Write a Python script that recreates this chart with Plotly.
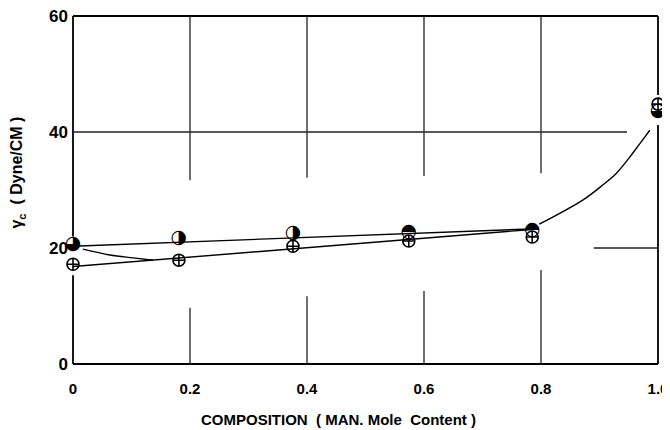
import plotly.graph_objects as go

# ---- data ----
composition = [0.0, 0.181, 0.376, 0.574, 0.785, 1.0]
gamma_half = [20.7, 21.7, 22.6, 22.8, 23.1, 43.6]      # half-filled circles
gamma_cross = [17.2, 17.9, 20.3, 21.2, 21.9, 44.8]     # crossed circles

fit_half_x = [0.0, 0.785]
fit_half_y = [20.3, 23.3]
fit_cross_x = [0.0, 0.785]
fit_cross_y = [16.8, 23.2]

dip_x = [0.017, 0.063, 0.103, 0.137]
dip_y = [19.8, 18.8, 18.3, 17.9]

rise_x = [0.797, 0.872, 0.906, 0.929, 0.952, 0.969, 0.986]
rise_y = [24.1, 28.3, 30.9, 32.9, 35.7, 38.0, 40.3]

x_ticks = [0, 0.2, 0.4, 0.6, 0.8, 1.0]
x_ticktext = ["0", "0.2", "0.4", "0.6", "0.8", "1.0"]
y_ticks = [0, 20, 40, 60]

X_MAX = 1.0
Y_MAX = 60

half_glyphs = ["◕", "◑", "◑", "◓", "◓", "◒"]

fig = go.Figure()
line_style = dict(color="black", width=1.4)

fig.add_trace(go.Scatter(x=fit_half_x, y=fit_half_y, mode="lines", line=line_style, hoverinfo="skip"))
fig.add_trace(go.Scatter(x=fit_cross_x, y=fit_cross_y, mode="lines", line=line_style, hoverinfo="skip"))
fig.add_trace(go.Scatter(x=dip_x, y=dip_y, mode="lines", line=dict(color="black", width=1.4, shape="spline"), hoverinfo="skip"))
fig.add_trace(go.Scatter(x=rise_x, y=rise_y, mode="lines", line=dict(color="black", width=1.4, shape="spline"), hoverinfo="skip"))

fig.add_trace(go.Scatter(
    x=composition, y=gamma_cross, mode="markers", cliponaxis=False,
    marker=dict(symbol="circle-cross-open", size=12, color="black", line=dict(width=1.6, color="black")),
))
fig.add_trace(go.Scatter(
    x=composition, y=gamma_half, mode="text", text=half_glyphs, cliponaxis=False,
    textposition="middle center",
    textfont=dict(family="DejaVu Sans", size=19, color="black"),
))

# broken grid lines (decoration, in axis units)
segments = [
    (0.2, 60, 0.2, 31.7), (0.2, 9.7, 0.2, 0),
    (0.4, 60, 0.4, 32.1), (0.4, 11.7, 0.4, 0),
    (0.6, 60, 0.6, 32.4), (0.6, 12.6, 0.6, 0),
    (0.8, 60, 0.8, 32.9), (0.8, 16.2, 0.8, 0),
    (0, 40, 0.947, 40), (0.89, 20, 1.0, 20),
]
# frame pieces (the sides are broken around the end markers)
frame = [
    (0, 60, 1.0, 60), (0, 0, 1.0, 0),
    (0, 60, 0, 22.0), (0, 15.3, 0, 0),
    (1.0, 60, 1.0, 46.4), (1.0, 41.2, 1.0, 0),
]
for (x0, y0, x1, y1) in segments:
    fig.add_shape(type="line", xref="x", yref="y", x0=x0, y0=y0, x1=x1, y1=y1,
                  line=dict(color="#222", width=1.3), layer="below")
for (x0, y0, x1, y1) in frame:
    fig.add_shape(type="line", xref="paper", yref="paper",
                  x0=x0 / X_MAX, y0=y0 / Y_MAX, x1=x1 / X_MAX, y1=y1 / Y_MAX,
                  line=dict(color="black", width=1.8), layer="below")

# page body has an 8px default margin, so the figure is sized to fill the rest
fig.update_layout(
    width=662, height=422,
    margin=dict(l=65, r=12, t=8, b=66, autoexpand=False),
    paper_bgcolor="white", plot_bgcolor="white",
    showlegend=False,
    font=dict(family="Liberation Sans", color="black"),
    xaxis=dict(range=[0, X_MAX], tickvals=x_ticks, ticktext=x_ticktext, showgrid=False,
               zeroline=False, showline=False, ticks="", ticklabelstandoff=14,
               automargin=False, ticklabeloverflow="allow",
               tickfont=dict(family="Liberation Sans", size=15, weight="bold")),
    yaxis=dict(range=[0, Y_MAX], tickvals=y_ticks, showgrid=False, zeroline=False,
               showline=False, ticks="", ticklabelstandoff=4, automargin=False,
               ticklabeloverflow="allow",
               tickfont=dict(family="Liberation Sans", size=17, weight="bold")),
    annotations=[
        dict(text="COMPOSITION  ( MAN. Mole  Content )", xref="paper", yref="paper",
             x=0.453, y=-0.16, xanchor="center", yanchor="middle", showarrow=False,
             font=dict(family="Liberation Sans", size=15, weight="bold")),
        dict(text="γ<sub>c</sub>  ( Dyne/CM )", xref="paper", yref="paper",
             x=-0.094, y=0.55, xanchor="center", yanchor="middle", showarrow=False,
             textangle=-90, font=dict(family="Liberation Sans", size=16, weight="bold")),
    ],
)

fig.write_html("out.html")
